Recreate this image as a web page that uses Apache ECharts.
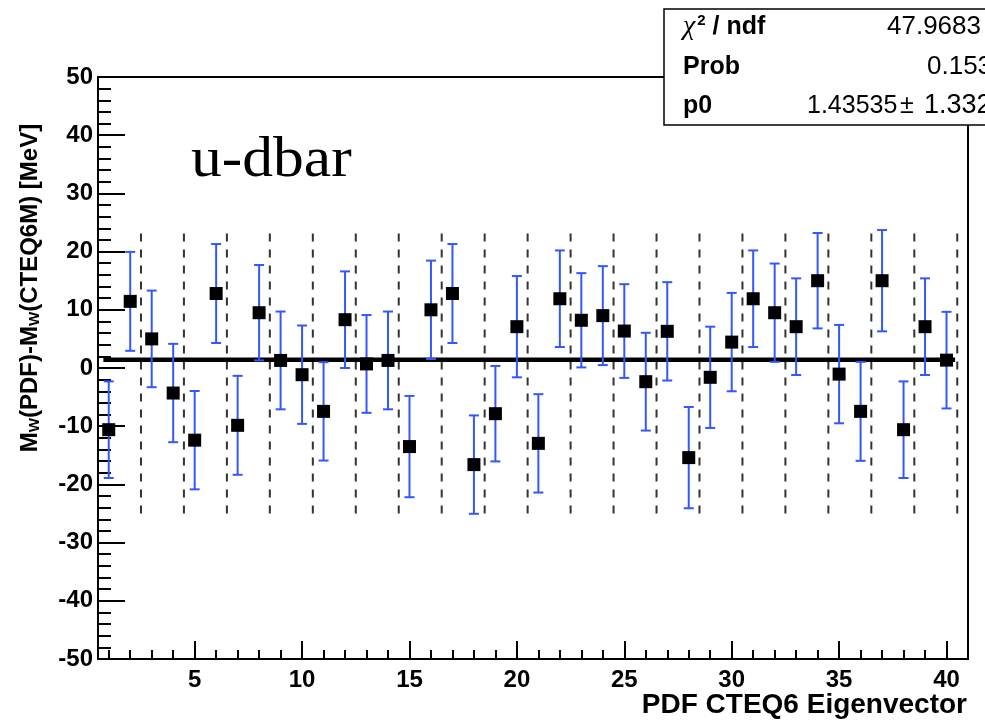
<!DOCTYPE html>
<html>
<head>
<meta charset="utf-8">
<title>u-dbar</title>
<script src="https://cdn.jsdelivr.net/npm/echarts@6/dist/echarts.min.js"></script>
<style>
  html, body { margin: 0; padding: 0; background: #fff; }
  #chart { width: 985px; height: 726px; }
</style>
</head>
<body>
<div id="chart"></div>
<script>
// eigenvector index
var eigenX = [1, 2, 3, 4, 5, 6, 7, 8, 9, 10, 11, 12, 13, 14, 15, 16, 17, 18, 19, 20,
  21, 22, 23, 24, 25, 26, 27, 28, 29, 30, 31, 32, 33, 34, 35, 36, 37, 38, 39, 40];
// M_W(PDF)-M_W(CTEQ6M) [MeV]
var shiftValues = [-10.6, 11.45, 5.0, -4.3, -12.4, 12.8, -9.85, 9.5, 1.3, -1.15,
  -7.45, 8.3, 0.7, 1.3, -13.5, 10.0, 12.8, -16.6, -7.85, 7.1,
  -12.95, 11.9, 8.2, 9.0, 6.35, -2.35, 6.3, -15.4, -1.6, 4.45,
  11.9, 9.5, 7.1, 15.0, -1.05, -7.45, 15.0, -10.6, 7.1, 1.35];
var shiftErrors = [8.3, 8.5, 8.3, 8.45, 8.45, 8.5, 8.5, 8.2, 8.4, 8.45,
  8.45, 8.3, 8.4, 8.4, 8.7, 8.45, 8.5, 8.45, 8.2, 8.7,
  8.45, 8.3, 8.1, 8.5, 8.05, 8.4, 8.45, 8.7, 8.7, 8.45,
  8.3, 8.45, 8.3, 8.2, 8.45, 8.5, 8.7, 8.3, 8.3, 8.3];
// dashed separators between eigenvector pairs
var dividerX = [2.5, 4.5, 6.5, 8.5, 10.5, 12.5, 14.5, 16.5, 18.5, 20.5,
  22.5, 24.5, 26.5, 28.5, 30.5, 32.5, 34.5, 36.5, 38.5, 40.5];
var dividerRange = [-25, 24];
// constant fit p0
var fitP0 = 1.43535;
var fitRange = [0.75, 40.4];
// tick labels
var xMajorTicks = [5, 10, 15, 20, 25, 30, 35, 40];
var xMinorTicks = eigenX;
// stats box
var statsLabels = ['χ² / ndf', 'Prob', 'p0'];
var statsValues = ['47.9683 / 39', '0.1535', '1.43535', '±', '1.3328'];

var FONT = 'Liberation Sans';

var chart = echarts.init(document.getElementById('chart'));

var pointData = eigenX.map(function (x, i) { return [x, shiftValues[i]]; });
var errData = eigenX.map(function (x, i) { return [x, shiftValues[i], shiftErrors[i]]; });
var dividerData = dividerX.map(function (x) { return [x, dividerRange[0], dividerRange[1]]; });

//误差棒
function renderErrorBar(params, api) {
  var x = api.value(0), y = api.value(1), e = api.value(2);
  var lo = api.coord([x, y - e]);
  var hi = api.coord([x, y + e]);
  var cap = 5;
  var st = { stroke: '#3357ff', lineWidth: 2 };
  return {
    type: 'group',
    children: [
      { type: 'line', shape: { x1: lo[0], y1: lo[1], x2: hi[0], y2: hi[1] }, style: st },
      { type: 'line', shape: { x1: lo[0] - cap, y1: lo[1], x2: lo[0] + cap, y2: lo[1] }, style: st },
      { type: 'line', shape: { x1: hi[0] - cap, y1: hi[1], x2: hi[0] + cap, y2: hi[1] }, style: st }
    ]
  };
}

//虚线分隔
function renderDivider(params, api) {
  var a = api.coord([api.value(0), api.value(1)]);
  var b = api.coord([api.value(0), api.value(2)]);
  return {
    type: 'line',
    shape: { x1: a[0], y1: a[1], x2: b[0], y2: b[1] },
    style: { stroke: '#333', lineWidth: 2, lineDash: [8, 8] }
  };
}

//统计框文字
function statText(x, y, text, bold, size) {
  return {
    type: 'text', x: x, y: y, z: 101,
    style: { text: text, verticalAlign: 'middle', fontFamily: FONT,
      fontWeight: bold ? 'bold' : 'normal', fontSize: size, fill: '#000' }
  };
}

var option = {
  animation: false,
  backgroundColor: '#fff',
  grid: {
    left: 98, right: 17, top: 77, bottom: 67,
    show: true, borderColor: '#000', borderWidth: 2, backgroundColor: 'transparent'
  },
  xAxis: [{
    type: 'value', min: 0.5, max: 41, position: 'bottom',
    axisLine: { show: true, onZero: false, lineStyle: { color: '#000', width: 2 } },
    axisTick: { show: true, inside: true, length: 18, customValues: xMajorTicks, lineStyle: { color: '#000', width: 2 } },
    axisLabel: { customValues: xMajorTicks, color: '#000', fontFamily: FONT, fontWeight: 'bold', fontSize: 24, margin: 9 },
    splitLine: { show: false }
  }, {
    type: 'value', min: 0.5, max: 41, position: 'bottom', gridIndex: 0,
    axisLine: { show: false, onZero: false },
    axisTick: { show: true, inside: true, length: 9, customValues: xMinorTicks, lineStyle: { color: '#000', width: 2 } },
    axisLabel: { show: false },
    splitLine: { show: false }
  }],
  yAxis: {
    type: 'value', min: -50, max: 50, interval: 10,
    axisLine: { show: true, onZero: false, lineStyle: { color: '#000', width: 2 } },
    axisTick: { show: true, inside: true, length: 27, lineStyle: { color: '#000', width: 2 } },
    minorTick: { show: true, splitNumber: 5, length: 13, lineStyle: { color: '#000', width: 2 } },
    axisLabel: { color: '#000', fontFamily: FONT, fontWeight: 'bold', fontSize: 24, margin: 5 },
    splitLine: { show: false }
  },
  series: [{
    type: 'custom', renderItem: renderDivider, data: dividerData, z: 1, silent: true
  }, {
    type: 'line', data: [[fitRange[0], fitP0], [fitRange[1], fitP0]],
    symbol: 'none', lineStyle: { color: '#000', width: 4.5 }, z: 2, silent: true
  }, {
    type: 'custom', renderItem: renderErrorBar, data: errData, z: 3, silent: true
  }, {
    type: 'scatter', data: pointData, symbol: 'rect', symbolSize: 13,
    itemStyle: { color: '#000', opacity: 1 }, z: 4, silent: true
  }],
  graphic: [
    //u-dbar 标签
    {
      type: 'text', left: 191, top: 133, scaleX: 1.08,
      style: { text: 'u-dbar', font: '57px "Liberation Serif"', fill: '#000' }
    },
    //y轴标题
    {
      type: 'text', x: 30, y: 288, rotation: Math.PI / 2,
      style: {
        text: '{t|M}{s|W}{t|(PDF)-M}{s|W}{t|(CTEQ6M) [MeV]}',
        align: 'center', verticalAlign: 'middle',
        rich: {
          t: { fontFamily: FONT, fontWeight: 'bold', fontSize: 24, fill: '#000', verticalAlign: 'bottom' },
          s: { fontFamily: FONT, fontWeight: 'bold', fontSize: 15, fill: '#000', verticalAlign: 'bottom', padding: [10, 0, 0, 0] }
        }
      }
    },
    //x轴标题
    {
      type: 'text', x: 967, y: 705,
      style: { text: 'PDF CTEQ6 Eigenvector', align: 'right', verticalAlign: 'middle',
        fontFamily: FONT, fontWeight: 'bold', fontSize: 28, fill: '#000' }
    },
    //统计框
    {
      type: 'rect', shape: { x: 664, y: 9, width: 340, height: 116 }, z: 100,
      style: { fill: '#fff', stroke: '#000', lineWidth: 1.5 }
    },
    {
      type: 'text', x: 683, y: 27, z: 101,
      style: {
        text: '{g|χ}{sup|2}{b| / ndf}', verticalAlign: 'middle',
        rich: {
          g: { fontFamily: 'Liberation Serif', fontStyle: 'italic', fontSize: 28, fill: '#000' },
          sup: { fontFamily: FONT, fontWeight: 'bold', fontSize: 15, fill: '#000', padding: [0, 0, 12, 2] },
          b: { fontFamily: FONT, fontWeight: 'bold', fontSize: 25, fill: '#000' }
        }
      }
    },
    statText(683, 67, statsLabels[1], true, 25),
    statText(683, 106, statsLabels[2], true, 25),
    statText(887, 27, statsValues[0], false, 26),
    statText(927, 67, statsValues[1], false, 26),
    statText(807, 106, statsValues[2], false, 25),
    statText(900, 106, statsValues[3], false, 25),
    statText(924, 106, statsValues[4], false, 27)
  ]
};

chart.setOption(option);
</script>
</body>
</html>
